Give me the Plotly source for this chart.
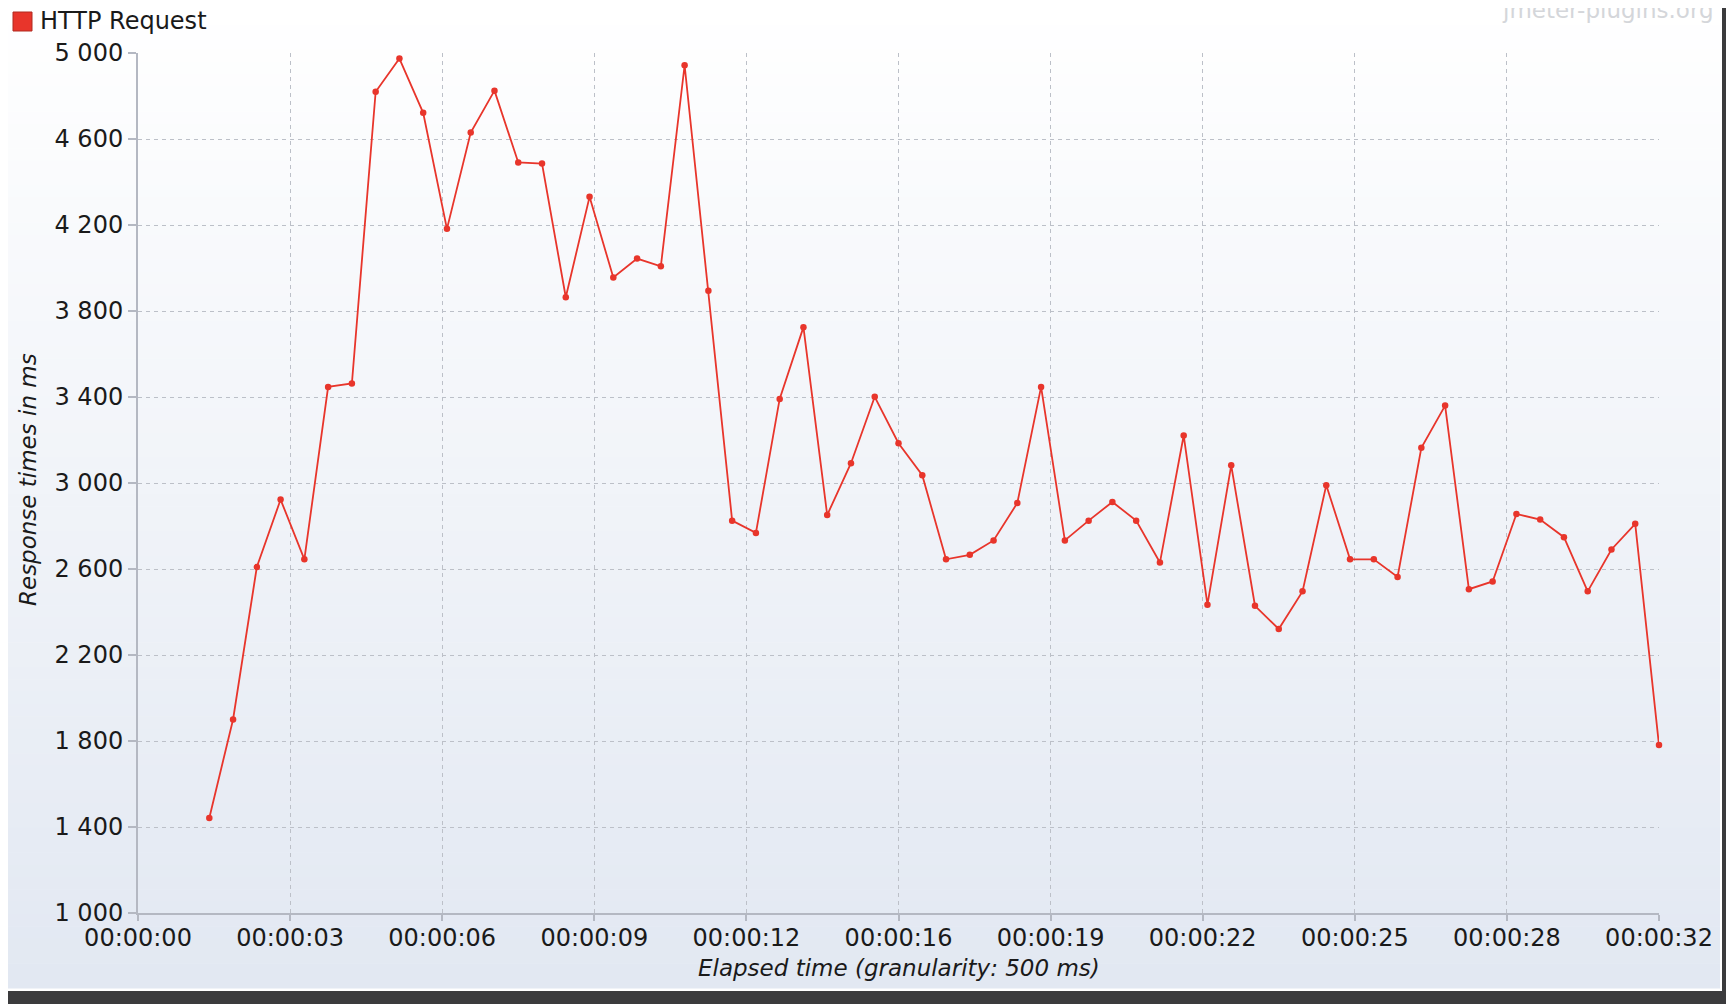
import plotly.graph_objects as go

# ---- data ----
elapsed_s = [1.5 + 0.5 * i for i in range(62)]
response_ms = [1442, 1900, 2609, 2923, 2645, 3447, 3463, 4820, 4974, 4722,
               4182, 4630, 4825, 4491, 4486, 3864, 4331, 3956, 4044, 4008,
               4943, 3894, 2825, 2768, 3391, 3725, 2851, 3092, 3401, 3185,
               3036, 2645, 2666, 2733, 2907, 3447, 2733, 2825, 2912, 2825,
               2630, 3221, 2434, 3082, 2429, 2321, 2496, 2990, 2645, 2645,
               2563, 3164, 3360, 2506, 2542, 2856, 2830, 2748, 2496, 2691,
               2810, 1781]
x_tickvals = [0, 3.2, 6.4, 9.6, 12.8, 16, 19.2, 22.4, 25.6, 28.8, 32]
x_ticktext = ["00:00:00", "00:00:03", "00:00:06", "00:00:09", "00:00:12",
              "00:00:16", "00:00:19", "00:00:22", "00:00:25", "00:00:28", "00:00:32"]
y_tickvals = [1000, 1400, 1800, 2200, 2600, 3000, 3400, 3800, 4200, 4600, 5000]
y_ticktext = ["1 000", "1 400", "1 800", "2 200", "2 600", "3 000",
              "3 400", "3 800", "4 200", "4 600", "5 000"]
series_name = "HTTP Request"

# ---- layout geometry (page body has an 8px margin) ----
OFF = 8
W, H = 1734 - OFF, 1004 - OFF
L, R, T, B = 130, 75, 45, 91
PW, PH = W - L - R, H - T - B

def px_x(px):
    return (px - OFF - L) / PW

def px_y(py):
    return (H - B - (py - OFF)) / PH

RED = "#e8352b"
FONT = "DejaVu Sans"
TXT = "#1a1a1a"

fig = go.Figure()
fig.add_trace(go.Scatter(
    x=elapsed_s, y=response_ms, mode="lines+markers", name=series_name,
    line=dict(color=RED, width=1.8),
    marker=dict(color=RED, size=6.5),
    cliponaxis=False, showlegend=False,
))

shapes = []
shapes.append(dict(type="rect", xref="paper", yref="paper",
                   x0=px_x(0), x1=px_x(1722), y0=px_y(991), y1=px_y(0),
                   fillcolor="#ffffff", line=dict(width=0), layer="below"))
n = 80
top = (255, 255, 255)
bot = (226, 232, 242)
y_start, y_end = 0, 988
for i in range(n):
    f = i / (n - 1)
    c = tuple(round(top[k] + (bot[k] - top[k]) * f) for k in range(3))
    ya = y_start + (y_end - y_start) * i / n
    yb = y_start + (y_end - y_start) * (i + 1) / n
    shapes.append(dict(type="rect", xref="paper", yref="paper",
                       x0=px_x(0), x1=px_x(1720), y0=px_y(yb + 0.5), y1=px_y(ya),
                       fillcolor="rgb(%d,%d,%d)" % c, line=dict(width=0), layer="below"))
shapes.append(dict(type="rect", xref="paper", yref="paper",
                   x0=px_x(13), x1=px_x(32), y0=px_y(31), y1=px_y(12),
                   fillcolor=RED, line=dict(color="#b02a20", width=1), layer="above"))

annotations = [
    dict(text=series_name, xref="paper", yref="paper", x=px_x(38), y=px_y(21),
         xanchor="left", yanchor="middle", showarrow=False,
         font=dict(family=FONT, size=24, color=TXT)),
    dict(text="jmeter-plugins.org", xref="paper", yref="paper", x=px_x(1716), y=px_y(25),
         xanchor="right", yanchor="bottom", showarrow=False,
         font=dict(family=FONT, size=23, color="#d4d6da")),
    dict(text="<i>Elapsed time (granularity: 500 ms)</i>", xref="paper", yref="paper",
         x=px_x(899), y=px_y(968), xanchor="center", yanchor="middle", showarrow=False,
         font=dict(family=FONT, size=23, color=TXT)),
    dict(text="<i>Response times in ms</i>", xref="paper", yref="paper",
         x=px_x(28), y=px_y(480), xanchor="center", yanchor="middle", showarrow=False,
         textangle=-90, font=dict(family=FONT, size=23, color=TXT)),
]

GRID = "#bcc0c8"
AXIS = "#b4b8c2"
fig.update_layout(
    width=W, height=H,
    margin=dict(l=L, r=R, t=T, b=B, pad=0),
    paper_bgcolor="#3b3b3d",
    plot_bgcolor="rgba(0,0,0,0)",
    shapes=shapes, annotations=annotations,
    font=dict(family=FONT, size=24, color=TXT),
    xaxis=dict(range=[0, 32], tickvals=x_tickvals, ticktext=x_ticktext,
               showgrid=True, gridcolor=GRID, griddash="4px,4px", gridwidth=1,
               showline=True, linecolor=AXIS, linewidth=2,
               ticks="outside", ticklen=6, tickcolor=AXIS, tickwidth=1.5,
               ticklabelstandoff=-4,
               tickfont=dict(family=FONT, size=24, color=TXT),
               zeroline=False, fixedrange=True),
    yaxis=dict(range=[1000, 5000], tickvals=y_tickvals, ticktext=y_ticktext,
               showgrid=True, gridcolor=GRID, griddash="4px,4px", gridwidth=1,
               showline=True, linecolor=AXIS, linewidth=2,
               ticks="outside", ticklen=8, tickcolor=AXIS, tickwidth=1.5,
               tickfont=dict(family=FONT, size=24, color=TXT),
               zeroline=False, fixedrange=True),
)

fig.write_html("out.html")
